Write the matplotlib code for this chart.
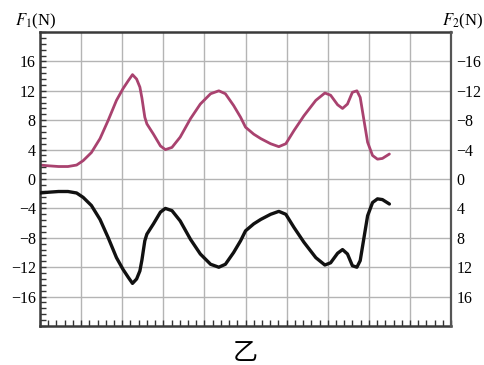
import matplotlib.pyplot as plt
from matplotlib.ticker import MultipleLocator

plt.rcParams["font.family"] = ["Liberation Serif", "DejaVu Serif"]
plt.rcParams["mathtext.fontset"] = "stix"

# time axis in grid units (no labels on it)
t = [0.00, 0.20, 0.45, 0.68, 0.89, 1.05, 1.25, 1.46, 1.66, 1.86, 2.02, 2.15, 2.25,
     2.35, 2.43, 2.48, 2.52, 2.55, 2.60, 2.76, 2.93, 3.05, 3.21, 3.41, 3.66, 3.90,
     4.15, 4.35, 4.51, 4.71, 4.88, 5.00, 5.20, 5.37, 5.61, 5.81, 5.98, 6.18, 6.42,
     6.71, 6.93, 7.07, 7.24, 7.36, 7.48, 7.60, 7.71, 7.79, 7.89, 7.97, 8.09, 8.21,
     8.33, 8.50]
# F1 readings (N)
f1 = [1.9, 1.8, 1.7, 1.7, 1.9, 2.5, 3.6, 5.5, 8.0, 10.7, 12.3, 13.4, 14.2,
      13.6, 12.5, 11.0, 9.5, 8.4, 7.5, 6.1, 4.5, 4.0, 4.3, 5.7, 8.2, 10.2,
      11.6, 12.0, 11.6, 10.0, 8.4, 7.05, 6.1, 5.5, 4.8, 4.4, 4.8, 6.6, 8.6,
      10.7, 11.7, 11.4, 10.1, 9.6, 10.2, 11.8, 12.0, 11.1, 7.7, 5.0, 3.2, 2.7,
      2.8, 3.4]
# F2 readings (N), shown on the reversed right-hand scale
f2 = list(f1)

yticks = [-16, -12, -8, -4, 0, 4, 8, 12, 16]

fig = plt.figure(figsize=(4.85, 3.65), dpi=100)
ax = fig.add_axes([0.0825, 0.1068, 0.8475, 0.8055])
ax2 = ax.twinx()

ax.set_xlim(0, 10)
ax.set_ylim(-20, 20)
ax2.set_ylim(20, -20)

ax.set_yticks(yticks)
ax.yaxis.set_minor_locator(MultipleLocator(0.8))
ax.xaxis.set_major_locator(MultipleLocator(1))
ax.xaxis.set_minor_locator(MultipleLocator(0.2))
ax.grid(True, which="major", color="#b4b4b4", linewidth=1.0)
ax.set_axisbelow(True)

ax.tick_params(axis="x", which="both", direction="in", length=4, width=1,
               labelbottom=False, top=False, color="#333333")
ax.tick_params(axis="y", which="both", direction="in", length=4, width=1,
               right=False, color="#333333", labelsize=11.5, pad=3)

ax2.set_yticks(yticks)
ax2.tick_params(axis="y", which="both", length=0, labelsize=11.5, pad=4)

for side in ["left", "bottom", "top"]:
    ax.spines[side].set_linewidth(1.8)
    ax.spines[side].set_color("#3a3a3a")
ax.spines["right"].set_visible(False)
for side in ["left", "bottom", "top"]:
    ax2.spines[side].set_visible(False)
ax2.spines["right"].set_linewidth(1.6)
ax2.spines["right"].set_color("#555555")

ax.plot(t, f1, color="#a9426f", linewidth=2.0, solid_capstyle="round")
ax2.plot(t, f2, color="#111111", linewidth=2.4, solid_capstyle="round")

fig.text(36 / 485, 1 - 21 / 365, r"$F_1$(N)", ha="center", va="center", fontsize=12)
fig.text(463 / 485, 1 - 21 / 365, r"$F_2$(N)", ha="center", va="center", fontsize=12)
fig.text(245 / 485, 1 - 353 / 365, "乙", ha="center", va="center", fontsize=18,
         family=["Noto Sans CJK SC", "DejaVu Sans"])

fig.savefig("out.png", dpi=100)
